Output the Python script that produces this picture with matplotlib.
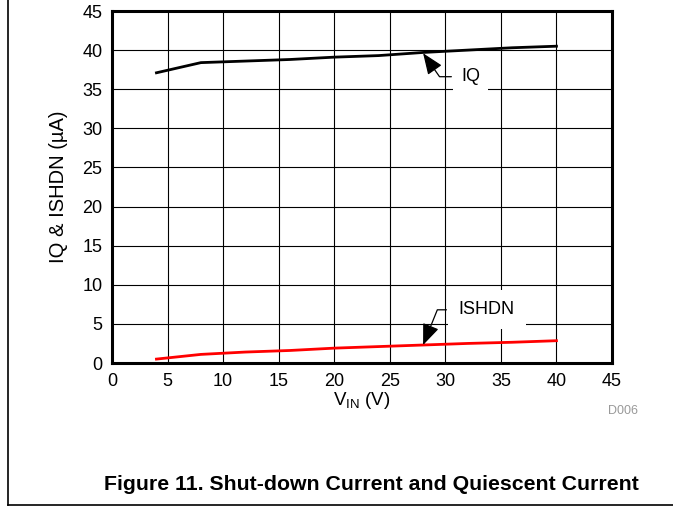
import numpy as np
import matplotlib.pyplot as plt
from matplotlib.lines import Line2D

plt.rcParams['font.family'] = ['Liberation Sans', 'DejaVu Sans']

# data
vin = [4, 8, 12, 16, 20, 24, 28, 32, 36, 40]
iq = [37.1, 38.4, 38.6, 38.8, 39.1, 39.3, 39.7, 40.0, 40.3, 40.5]
ishdn = [0.5, 1.1, 1.4, 1.6, 1.9, 2.1, 2.3, 2.5, 2.65, 2.85]

xticks = np.arange(0, 46, 5)
yticks = np.arange(0, 46, 5)

fig = plt.figure(figsize=(6.73, 5.08), dpi=100)
ax = fig.add_axes([112 / 673, 1 - 363 / 508, 500 / 673, 352 / 508])

ax.plot(vin, iq, color='black', lw=2, zorder=3)
ax.plot(vin, ishdn, color='#ff0000', lw=2, zorder=3)

ax.set_xlim(0, 45)
ax.set_ylim(0, 45)
ax.set_xticks(xticks)
ax.set_yticks(yticks)
ax.tick_params(length=0, labelsize=13, pad=7)
ax.grid(True, color='black', lw=0.8)
ax.set_axisbelow(True)
for s in ax.spines.values():
    s.set_linewidth(2.2)

ax.set_xlabel('V$_{\\mathregular{IN}}$ (V)', fontsize=13.5, labelpad=0)
ax.set_ylabel('IQ & ISHDN (µA)', fontsize=14.5, labelpad=10)

# callouts: horizontal leader from the label, then a slanted arrow to the curve
head = '-|>,head_length=1.0,head_width=0.4'
ax.annotate('IQ', xy=(28, 39.6), xytext=(31.4, 36.6), fontsize=13,
            va='center', ha='left', zorder=4,
            arrowprops=dict(arrowstyle=head, color='black', lw=0.9,
                            shrinkA=1, shrinkB=0,
                            connectionstyle='angle,angleA=0,angleB=-55,rad=0'),
            bbox=dict(boxstyle='square,pad=0.45', fc='white', ec='none'))
ax.annotate('ISHDN', xy=(28, 2.3), xytext=(31.2, 6.8), fontsize=13,
            va='center', ha='left', zorder=4,
            arrowprops=dict(arrowstyle=head, color='black', lw=0.9,
                            shrinkA=1, shrinkB=0,
                            connectionstyle='angle,angleA=0,angleB=68,rad=0'),
            bbox=dict(boxstyle='square,pad=0.6', fc='white', ec='none'))

fig.text(623 / 673, 1 - 411 / 508, 'D006', fontsize=9, color='#999999',
         ha='center', va='center')
fig.text(371 / 673, 1 - 484 / 508, 'Figure 11. Shut-down Current and Quiescent Current',
         fontsize=15.3, fontweight='bold', ha='center', va='center')

# outer frame (left and bottom edges visible)
fig.add_artist(Line2D([8 / 673, 8 / 673], [1 - 505 / 508, 1.0], color='black', lw=1.2))
fig.add_artist(Line2D([8 / 673, 1.0], [1 - 505 / 508, 1 - 505 / 508], color='black', lw=1.2))

fig.savefig('out.png', dpi=100)
